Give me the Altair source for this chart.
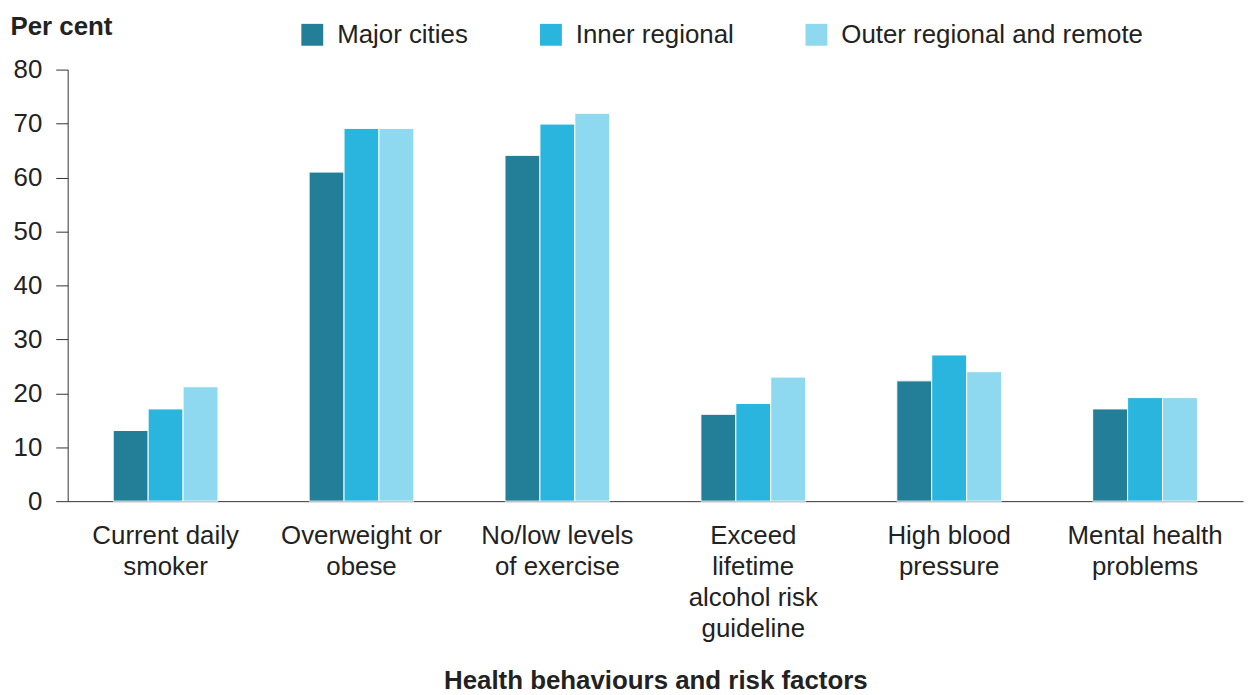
import altair as alt
import pandas as pd

categories = [
    "Current daily|smoker",
    "Overweight or|obese",
    "No/low levels|of exercise",
    "Exceed|lifetime|alcohol risk|guideline",
    "High blood|pressure",
    "Mental health|problems",
]
series = ["Major cities", "Inner regional", "Outer regional and remote"]
major = [13.1, 61.0, 64.1, 16.1, 22.3, 17.1]
inner = [17.1, 69.1, 69.9, 18.1, 27.1, 19.2]
outer = [21.2, 69.1, 71.9, 23.0, 24.0, 19.2]
colors = ["#237f97", "#29b5de", "#8ed8f0"]

rows = []
for i, c in enumerate(categories):
    for s, vals in zip(series, [major, inner, outer]):
        rows.append({"category": c, "series": s, "value": vals[i]})
df = pd.DataFrame(rows)

FONT = "Liberation Sans"
FS = 26

chart = alt.Chart(df).mark_bar(stroke="white", strokeWidth=1).encode(
    x=alt.X(
        "category:N",
        sort=categories,
        scale=alt.Scale(paddingInner=0.465, paddingOuter=0.2325),
        axis=alt.Axis(
            title="Health behaviours and risk factors",
            labelAngle=0,
            labelExpr="split(datum.label, '|')",
            labelFontSize=FS,
            labelLineHeight=31,
            labelPadding=22,
            labelColor="#222222",
            labelFont=FONT,
            labelLimit=400,
            ticks=False,
            domainColor="#333333",
            titleFontSize=FS,
            titleFont=FONT,
            titleFontWeight="bold",
            titleColor="#222222",
            titlePadding=26,
        ),
    ),
    xOffset=alt.XOffset("series:N", sort=series, scale=alt.Scale(paddingInner=0, paddingOuter=0)),
    y=alt.Y(
        "value:Q",
        scale=alt.Scale(domain=[0, 80]),
        axis=alt.Axis(
            values=[0, 10, 20, 30, 40, 50, 60, 70, 80],
            grid=False,
            tickSize=12,
            tickColor="#333333",
            domainColor="#333333",
            labelFontSize=FS,
            labelFont=FONT,
            labelColor="#222222",
            labelPadding=14,
            title="Per cent",
            titleAngle=0,
            titleAlign="left",
            titleBaseline="alphabetic",
            titleX=-58,
            titleY=-35,
            titleFontSize=FS,
            titleFont=FONT,
            titleFontWeight="bold",
            titleColor="#222222",
        ),
    ),
    color=alt.Color(
        "series:N",
        sort=series,
        scale=alt.Scale(domain=series, range=colors),
        legend=alt.Legend(
            title=None,
            orient="none",
            direction="horizontal",
            legendX=233,
            legendY=-48,
            symbolType="square",
            symbolSize=484,
            symbolStrokeWidth=0,
            labelFontSize=FS,
            labelFont=FONT,
            labelColor="#222222",
            labelOffset=12,
            labelLimit=500,
            columnPadding=70,
        ),
    ),
).properties(
    width=1182,
    height=434,
    background="white",
    padding={"left": 60, "top": 60, "right": 2, "bottom": 193},
    autosize=alt.AutoSizeParams(type="none"),
).configure_view(stroke=None)

chart.save("out.html", embed_options={"renderer": "svg", "actions": False})
